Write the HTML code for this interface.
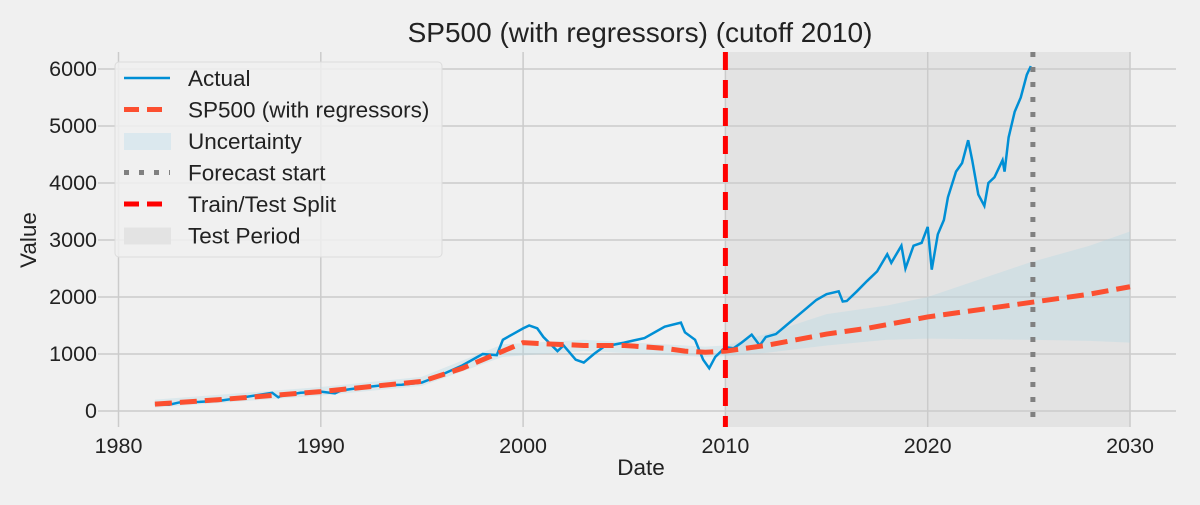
<!DOCTYPE html>
<html><head><meta charset="utf-8"><style>
body{margin:0;background:#f0f0f0;font-family:"Liberation Sans",sans-serif}
svg text{font-family:"Liberation Sans",sans-serif;fill:#222}
</style></head><body>
<svg id="c" width="1200" height="500">
<rect width="1200" height="500" fill="#f0f0f0"/>
<g id="g"></g>
</svg>
<script>
const actX=[1981.8,1982.5,1983,1984,1985,1986,1987.6,1987.9,1988,1989,1990,1990.7,1991,1992,1993,1994,1995,1996,1997,1998,1998.7,1999,1999.5,2000,2000.3,2000.7,2001,2001.7,2002,2002.6,2003,2003.5,2004,2005,2006,2007,2007.8,2008,2008.5,2008.9,2009.2,2009.5,2010,2010.4,2010.8,2011.3,2011.7,2012,2012.5,2013,2013.5,2014,2014.5,2015,2015.6,2015.8,2016,2016.5,2017,2017.5,2018,2018.2,2018.7,2018.9,2019.3,2019.7,2020,2020.2,2020.5,2020.8,2021,2021.4,2021.7,2022,2022.2,2022.5,2022.8,2023,2023.3,2023.7,2023.8,2024,2024.3,2024.6,2024.9,2025.1];
const actY=[120,110,150,160,180,230,320,240,260,320,340,310,360,410,450,460,500,640,800,1000,980,1250,1350,1450,1500,1450,1300,1050,1150,900,850,1000,1130,1200,1280,1480,1550,1380,1250,900,750,950,1120,1100,1200,1340,1150,1300,1350,1500,1650,1800,1950,2050,2100,1920,1930,2100,2280,2450,2750,2600,2900,2500,2900,2950,3230,2480,3100,3350,3750,4200,4350,4750,4400,3800,3600,4000,4100,4400,4200,4800,5250,5500,5900,6050];
const fcX=[1981.8,1985,1990,1995,1997,1999,2000,2001,2003,2005,2007,2008,2009,2010,2012,2015,2017,2020,2022,2025,2028,2030];
const fcY=[120,200,340,520,750,1050,1200,1180,1150,1150,1100,1050,1030,1050,1150,1350,1450,1650,1750,1900,2050,2180];
const bandX=[1981.8,1990,1995,1999,2003,2009,2010,2012,2015,2018,2020,2025,2028,2030];
const bandLo=[60,270,440,950,1050,950,960,1020,1150,1250,1270,1250,1230,1200];
const bandHi=[200,420,600,1170,1250,1130,1150,1350,1700,1850,2000,2600,2900,3150];
const xTicks=[1980,1990,2000,2010,2020,2030];
const yTicks=[0,1000,2000,3000,4000,5000,6000];
const splitYear=2010, forecastYear=2025.2, testEnd=2030;
const L=98,R=1176,T=52,B=427;
const X=v=>118.5+(v-1980)*20.23, Y=v=>411-v*0.057;
const g=document.getElementById('g');const NS='http://www.w3.org/2000/svg';
function el(t,a,txt){const e=document.createElementNS(NS,t);for(const k in a)e.setAttribute(k,a[k]);if(txt!=null)e.textContent=txt;g.appendChild(e);return e;}
let e;
e=el('rect',{x:X(splitYear),y:T,width:X(testEnd)-X(splitYear),height:B-T,fill:'#e3e3e3'});


xTicks.forEach(v=>{e=el('line',{x1:X(v),x2:X(v),y1:T,y2:B,stroke:'#cbcbcb','stroke-width':1.5});


e=el('text',{x:X(v),y:453,'text-anchor':'middle','font-size':21.5},v);

});
yTicks.forEach(v=>{e=el('line',{x1:L,x2:R,y1:Y(v),y2:Y(v),stroke:'#cbcbcb','stroke-width':1.5});


e=el('text',{x:97,y:Y(v)+7,'text-anchor':'end','font-size':21.5},v);

});
let d='M'+bandX.map((x,i)=>X(x)+','+Y(bandHi[i])).join('L');
for(let i=bandX.length-1;i>=0;i--)d+='L'+X(bandX[i])+','+Y(bandLo[i]);
e=el('path',{d:d+'Z',fill:'#add8e6','fill-opacity':0.3});


e=el('polyline',{points:actX.map((x,i)=>X(x)+','+Y(actY[i])).join(' '),fill:'none',stroke:'#008fd5','stroke-width':2.5});


e=el('polyline',{points:fcX.map((x,i)=>X(x)+','+Y(fcY[i])).join(' '),fill:'none',stroke:'#fc4f30','stroke-width':5,'stroke-dasharray':'17 8'});


e=el('line',{x1:X(forecastYear),x2:X(forecastYear),y1:T,y2:B,stroke:'#808080','stroke-width':5,'stroke-dasharray':'5 10'});


e=el('line',{x1:X(splitYear),x2:X(splitYear),y1:T,y2:B,stroke:'#ff0000','stroke-width':5,'stroke-dasharray':'18 10'});


e=el('text',{x:640,y:42,'text-anchor':'middle','font-size':28},'SP500 (with regressors) (cutoff 2010)');


e=el('text',{x:641,y:475,'text-anchor':'middle','font-size':22.5},'Date');


e=el('text',{x:36,y:240,'text-anchor':'middle','font-size':22.5,transform:'rotate(-90 36 240)'},'Value');


e=el('rect',{x:115,y:62,width:327,height:195,rx:4,fill:'#f0f0f0','fill-opacity':0.85,stroke:'#dcdcdc'});


const leg=[['Actual','line','#008fd5','',2.5],['SP500 (with regressors)','line','#fc4f30','15 8',5],['Uncertainty','rect','#dbe8ee'],['Forecast start','line','#808080','5 10',5],['Train/Test Split','line','#ff0000','15 8',5],['Test Period','rect','#e3e3e3']];
leg.forEach((r,i)=>{const y=78+i*31.5;
if(r[1]=='line'){e=el('line',{x1:124,x2:170,y1:y,y2:y,stroke:r[2],'stroke-width':r[4],'stroke-dasharray':r[3]});}
else{e=el('rect',{x:124,y:y-8,width:47,height:17,fill:r[2]});}


e=el('text',{x:188,y:y+8,'font-size':22.5},r[0]);

});
</script>
</body></html>
